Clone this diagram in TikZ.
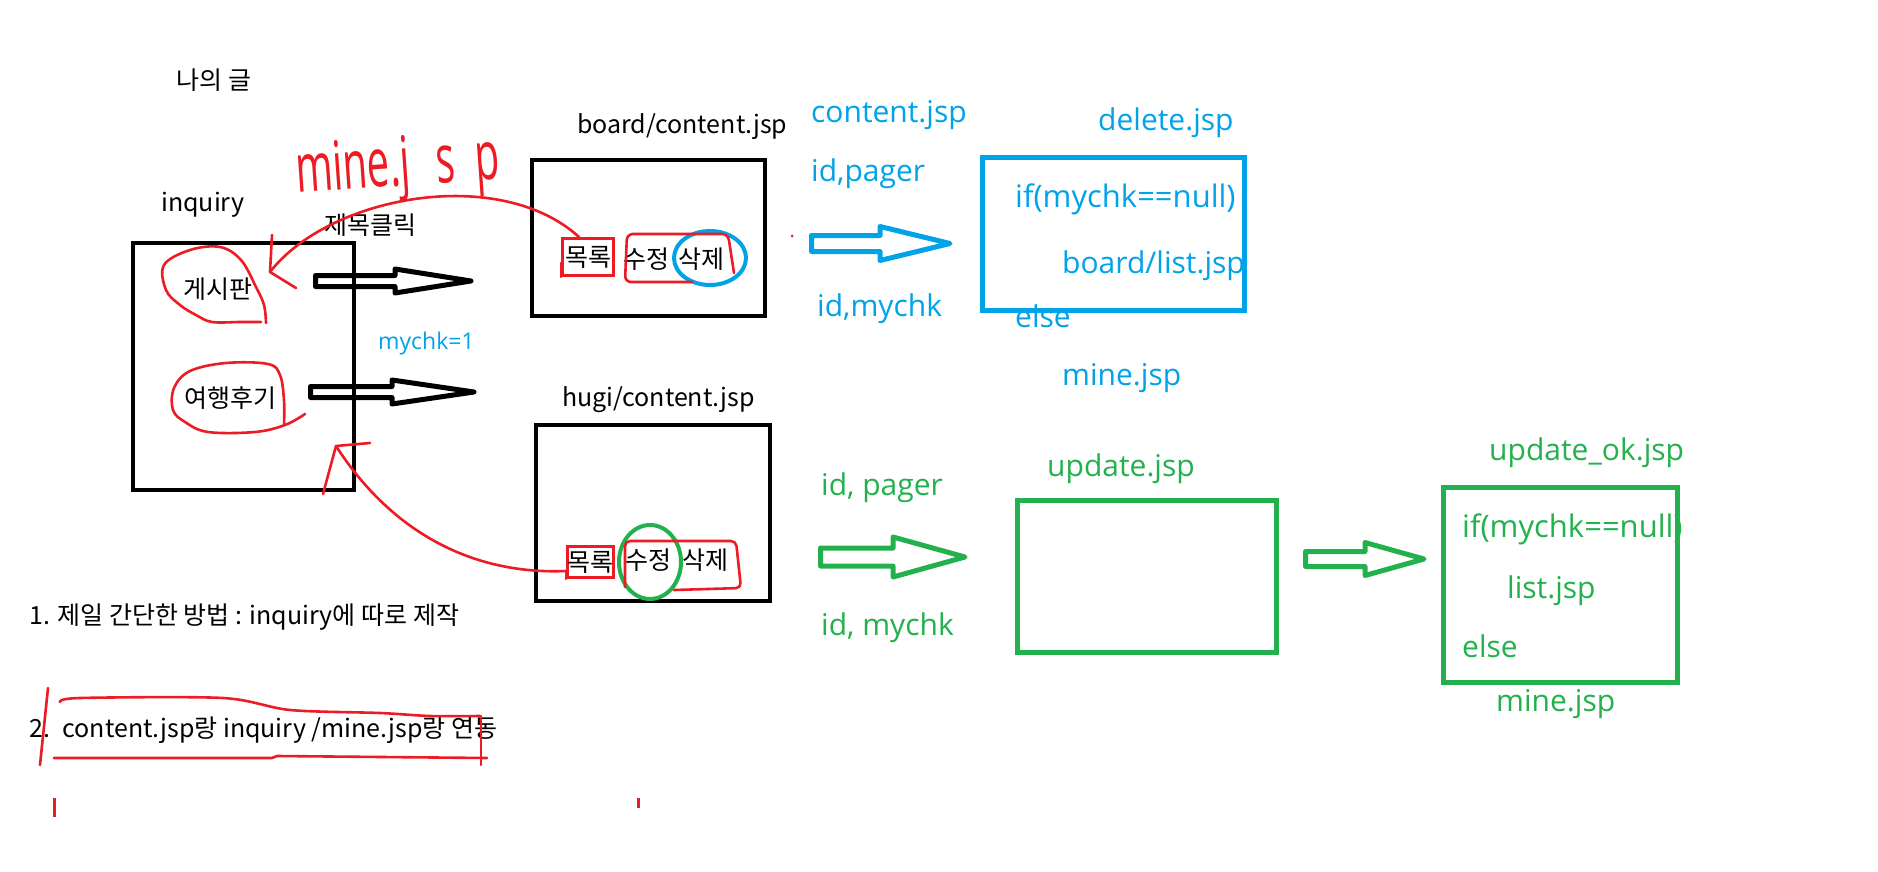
\documentclass[tikz,border=0pt]{standalone}
\usepackage{fontspec}
\setmainfont{Noto Sans CJK KR}
\newfontfamily\segoe{Open Sans}
\IfFontExistsTF{FiraSans-Light.otf}{\newfontfamily\handfont{FiraSans-Light.otf}}{\newfontfamily\handfont{Open Sans}}
\definecolor{mred}{HTML}{ED1C24}
\definecolor{mblue}{HTML}{00A2E8}
\definecolor{mgreen}{HTML}{22B14C}
\newcommand\hollowarrow[7]{% colour, x0, xh, xt, y, h, H
  \draw[harrow, draw=#1] (#2,#5-#6) -- (#3,#5-#6) -- (#3,#5-#7) -- (#4,#5) -- (#3,#5+#7) -- (#3,#5+#6) -- (#2,#5+#6) -- cycle;}
\begin{document}
\begin{tikzpicture}[x=1pt,y=-1pt,
  blk/.style={inner sep=0pt, font=\fontsize{25}{30}\selectfont},
  blkl/.style={blk, anchor=base west},
  bt/.style={inner sep=0pt, anchor=base west, text=mblue, font=\segoe\fontsize{30}{36}\selectfont},
  gt/.style={bt, text=mgreen},
  redpen/.style={draw=mred, line width=2.6pt, line cap=round, line join=round},
  redbox/.style={blk, draw=mred, line width=3pt},
  boxk/.style={draw=black, line width=4pt, inner sep=0pt},
  boxb/.style={draw=mblue, line width=5pt, inner sep=0pt},
  boxg/.style={draw=mgreen, line width=5pt, inner sep=0pt},
  harrow/.style={line width=5pt, line join=round}]
\useasboundingbox (0,0) rectangle (1878,872);
\fill[white] (0,0) rectangle (1878,872);

% boxes
\node[boxk, minimum width=221pt, minimum height=247pt] (inq) at (243.5,366.5) {};
\node[boxk, minimum width=233pt, minimum height=156pt] (board) at (648.5,238) {};
\node[boxk, minimum width=234pt, minimum height=176pt] (hugi) at (653,513) {};
\node[boxb, minimum width=262pt, minimum height=153pt] (del) at (1113.5,234) {};
\node[boxg, minimum width=259pt, minimum height=152pt] (upd) at (1147,576.5) {};
\node[boxg, minimum width=234pt, minimum height=195pt] (updok) at (1560.5,585) {};

% hollow arrows
\hollowarrow{black}{315.5}{395}{471}{281}{5.5}{12}
\hollowarrow{black}{310.5}{392}{474}{392}{5.5}{12}
\hollowarrow{mblue}{811.5}{880}{950}{243.5}{8}{17}
\hollowarrow{mgreen}{820.5}{893}{965}{557}{9}{20}
\hollowarrow{mgreen}{1305.5}{1365}{1424}{559}{7.5}{16.5}

% black texts
\node[blk] (title) at (214,80) {나의 글};
\node[blkl] (bct) at (577,134) {board/content.jsp};
\node[blkl] (inqt) at (161,211) {inquiry};
\node[blk] (click) at (370,225) {제목클릭};
\node[blk] (gesi) at (218,289) {게시판};
\node[blk] (trav) at (230,398) {여행후기};
\node[blkl] (hct) at (562,406) {hugi/content.jsp};
\node[bt, font=\segoe\fontsize{23}{28}\selectfont] (mychk) at (378,349) {mychk=1};

\node[redbox, minimum width=51pt, minimum height=37pt] (bmok) at (588,257) {목록};
\node[blk] (bsu) at (646,259) {수정};
\node[blk] (bsak) at (701,259) {삭제};
\node[redbox, minimum width=46pt, minimum height=31pt] (hmok) at (590.5,562) {목록};
\node[blk] (hsu) at (648,560) {수정};
\node[blk] (hsak) at (705,560) {삭제};

\node[blkl] (l1) at (29,624) {1. 제일 간단한 방법 : inquiry에 따로 제작};
\node[blkl] (l2) at (29,737) {2.\hspace{0.5em}content.jsp랑 inquiry /mine.jsp랑 연동};

% blue texts
\node[bt] (bc) at (811,122) {content.jsp};
\node[bt] (bip) at (811,181) {id,pager};
\node[bt] (bim) at (817,316) {id,mychk};
\node[bt] (bdel) at (1098,131) {delete.jsp};
\node[bt, font=\segoe\fontsize{31}{36}\selectfont] (bif) at (1015,207) {if(mychk==null)};
\node[bt] (blist) at (1062,273) {board/list.jsp};
\node[bt] (belse) at (1015,327) {else};
\node[bt] (bmine) at (1062,385) {mine.jsp};

% green texts
\node[gt] (gip) at (821,495) {id, pager};
\node[gt] (gim) at (821,635) {id, mychk};
\node[gt] (gup) at (1047,476) {update.jsp};
\node[gt] (gupok) at (1489,460) {update\_ok.jsp};
\node[gt, font=\segoe\fontsize{31}{36}\selectfont] (gif) at (1462,537) {if(mychk==null)};
\node[gt] (glist) at (1507,598) {list.jsp};
\node[gt] (gelse) at (1462,657) {else};
\node[gt] (gmine) at (1496,711) {mine.jsp};

% circles
\draw[mblue, line width=4pt] (710,258) ellipse [x radius=36, y radius=27];
\draw[mgreen, line width=4pt] (650,562) ellipse [x radius=31, y radius=37];

% red annotations
\draw[redpen] (bmok.south west) -- ++(0,-14);
\draw[redpen] (hmok.south west) -- ++(0,-6);
\draw[redpen, rounded corners=6pt] (692,282) -- (625,282) -- (627,234) -- (728,234) -- (734,273);
\draw[redpen, rounded corners=5pt] (625,587) -- (625,541) -- (736,541) -- (741,588) -- (674,590);

\coordinate (tip1) at (270,272);
\draw[redpen] ([xshift=-9pt]bmok.north) .. controls (500,165) and (330,195) .. (tip1);
\draw[redpen] (272,235) -- (tip1) -- (296,288);

\coordinate (tip2) at (336,446);
\draw[redpen] ([yshift=-9pt]hmok.west) .. controls (470,575) and (390,530) .. (tip2);
\draw[redpen] (370,443) -- (tip2) -- (323,494);

\draw[redpen] plot[smooth, tension=0.6] coordinates {(266,323) (264,305) (256,287) (241,260) (220,247) (190,250) (164,265) (166,290) (180,305) (196,315) (212,322) (240,322) (261,322)};
\draw[redpen] plot[smooth, tension=0.6] coordinates {(284,425) (284,400) (280,375) (268,364) (226,363) (190,371) (174,388) (173,410) (185,422) (208,432) (255,432) (285,425) (305,414)};

\draw[redpen] (48,688) -- (40,765);
\draw[redpen] plot[smooth, tension=0.5] coordinates {(60,702) (80,698) (223,698) (290,710) (380,713) (430,716) (480,716)};
\draw[redpen] (54,758) -- (272,758) -- (277,756) -- (487,758);
\draw[redpen] (481,716) -- (481,765);
\draw[mred, line width=3pt] (54,798) -- (54,817);
\draw[mred, line width=3pt] (638,798) -- (638,808);
\fill[mred] (792,236) circle (1.5);

\begin{scope}[shift={(297,193)}]
\node[inner sep=0pt, anchor=base west, text=mred, font=\handfont\fontsize{40}{40}\selectfont, rotate=4, yscale=1.7, transform shape] (minehw) at (0,0) {mine.j\kern26pt s\kern20pt p};
\end{scope}
\end{tikzpicture}
\end{document}
